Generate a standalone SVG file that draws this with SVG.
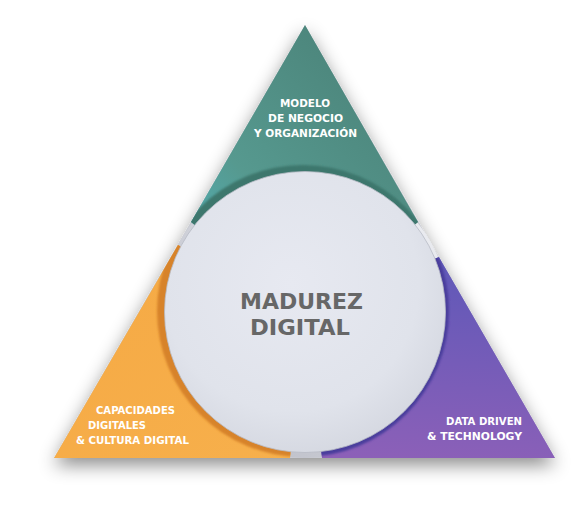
<svg xmlns="http://www.w3.org/2000/svg" width="572" height="510" viewBox="0 0 572 510">
  <defs>
    <filter id="dropShadow" x="-20%" y="-20%" width="140%" height="150%">
      <feDropShadow dx="0" dy="7" stdDeviation="9" flood-color="#000" flood-opacity="0.45"/>
    </filter>
    <filter id="soft" x="-10%" y="-10%" width="120%" height="120%">
      <feGaussianBlur stdDeviation="1.2"/>
    </filter>
    <linearGradient id="tealFill" x1="0.75" y1="0.2" x2="0.1" y2="1">
      <stop offset="0" stop-color="#4d877d"/>
      <stop offset="0.55" stop-color="#56998f"/>
      <stop offset="1" stop-color="#50b6c0"/>
    </linearGradient>
    <linearGradient id="orangeFill" x1="0" y1="0" x2="1" y2="1">
      <stop offset="0" stop-color="#f5a944"/>
      <stop offset="1" stop-color="#f7b04c"/>
    </linearGradient>
    <linearGradient id="purpleFill" x1="0.4" y1="0" x2="0.3" y2="1">
      <stop offset="0" stop-color="#5f58b8"/>
      <stop offset="1" stop-color="#8c60b8"/>
    </linearGradient>
    <linearGradient id="rimFill" x1="1" y1="0" x2="0" y2="1">
      <stop offset="0" stop-color="#f4f5f8"/>
      <stop offset="0.5" stop-color="#d2d4dc"/>
      <stop offset="1" stop-color="#b4b6c0"/>
    </linearGradient>
    <radialGradient id="discFill" cx="0.45" cy="0.4" r="0.65">
      <stop offset="0" stop-color="#e7e9f1"/>
      <stop offset="0.7" stop-color="#e0e3eb"/>
      <stop offset="1" stop-color="#d3d6df"/>
    </radialGradient>
    <clipPath id="clipTeal"><polygon points="305,25 191,222 305,313 418,222"/></clipPath>
    <clipPath id="clipOrange"><polygon points="54,458 178,245 305,313 290,458"/></clipPath>
    <clipPath id="clipPurple"><polygon points="555,458 322,458 305,313 439,257"/></clipPath>
    <style>
      .label { font-family: "DejaVu Sans", "Liberation Sans", sans-serif; font-size: 11px; font-weight: bold; fill: #ffffff; }
      .title { font-family: "DejaVu Sans", "Liberation Sans", sans-serif; font-size: 22px; font-weight: bold; fill: #676767; text-anchor: middle; }
      .mid { text-anchor: middle; }
      .end { text-anchor: end; }
    </style>
  </defs>

  <!-- triangle body with its cast shadow -->
  <polygon points="305,25 54,458 555,458" fill="#c9cbd2" filter="url(#dropShadow)"/>
  <!-- incircle base showing through the gaps between sectors -->
  <circle cx="305" cy="313.4" r="144.6" fill="url(#rimFill)"/>

  <g id="node-modelo">
    <polygon points="305,25 191,222 305,313 418,222" fill="url(#tealFill)"/>
    <g clip-path="url(#clipTeal)">
      <circle cx="303" cy="311" r="146" fill="#3d776d" filter="url(#soft)"/>
    </g>
    <text class="label mid" x="305" y="106.5" textLength="50" lengthAdjust="spacingAndGlyphs">MODELO</text>
    <text class="label mid" x="305.5" y="121.5" textLength="75" lengthAdjust="spacingAndGlyphs">DE NEGOCIO</text>
    <text class="label mid" x="305.5" y="136.5" textLength="103" lengthAdjust="spacingAndGlyphs">Y ORGANIZACIÓN</text>
  </g>

  <g id="node-capacidades">
    <polygon points="54,458 178,245 305,313 290,458" fill="url(#orangeFill)"/>
    <g clip-path="url(#clipOrange)">
      <circle cx="303" cy="311" r="146" fill="#d7832c" filter="url(#soft)"/>
    </g>
    <text class="label" x="96" y="413.5" textLength="79" lengthAdjust="spacingAndGlyphs">CAPACIDADES</text>
    <text class="label" x="88" y="428.5" textLength="58" lengthAdjust="spacingAndGlyphs">DIGITALES</text>
    <text class="label" x="76" y="443.5" textLength="113" lengthAdjust="spacingAndGlyphs">&amp; CULTURA DIGITAL</text>
  </g>

  <g id="node-data">
    <polygon points="555,458 322,458 305,313 439,257" fill="url(#purpleFill)"/>
    <g clip-path="url(#clipPurple)">
      <circle cx="303" cy="311" r="146" fill="#4a3e9c" filter="url(#soft)"/>
    </g>
    <text class="label end" x="522" y="425" textLength="76" lengthAdjust="spacingAndGlyphs">DATA DRIVEN</text>
    <text class="label end" x="522" y="440" textLength="95" lengthAdjust="spacingAndGlyphs">&amp; TECHNOLOGY</text>
  </g>

  <g id="node-madurez">
    <circle cx="305" cy="312" r="140.5" fill="url(#discFill)" stroke="#b8bbc5" stroke-width="0.8"/>
    <text class="title" x="301.5" y="308.5" textLength="123" lengthAdjust="spacingAndGlyphs">MADUREZ</text>
    <text class="title" x="300" y="334.5" textLength="100" lengthAdjust="spacingAndGlyphs">DIGITAL</text>
  </g>

  <g id="connectors"/>
</svg>
